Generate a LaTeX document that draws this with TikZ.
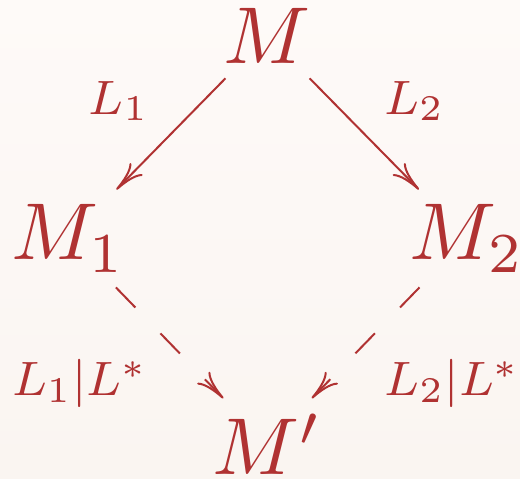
\documentclass[tikz,border=0pt]{standalone}
\usetikzlibrary{arrows.meta,positioning}
\definecolor{diagRed}{HTML}{B03232}
\definecolor{paperTop}{HTML}{FEFAF8}
\definecolor{paperBot}{HTML}{FAF5F1}
\newcommand\objtxt[1]{\scalebox{2.42}{$#1$}}
\newcommand\labtxt[1]{\scalebox{1.81}{\fontsize{8}{9.5}\selectfont$#1$}}

\begin{document}
\begin{tikzpicture}[>={To[length=8.7pt,width=5.3pt]},on grid,
  obj/.style={text=diagRed,inner sep=4.4pt},
  lab/.style={text=diagRed,inner sep=0pt},
  conn/.style={->,diagRed,line width=0.6pt}]
  \path[use as bounding box,top color=paperTop,bottom color=paperBot]
    (-80.25pt,-132.77pt) rectangle (75.75pt,10.64pt);
  \node[obj] (m) at (0,0) {\objtxt{M}};
  \node[obj,below left=60.9pt and 59.7pt of m] (m1) {\objtxt{M_1}};
  \node[obj,below right=60.9pt and 59.85pt of m] (m2) {\objtxt{M_2}};
  \node[obj,below=122.55pt of m] (mp) {\objtxt{M'}};
  \node[lab,below left=19.7pt and 44.55pt of m] (l1) {\labtxt{L_1}};
  \node[lab,below right=19.7pt and 44.1pt of m] (l2) {\labtxt{L_2}};
  \node[lab,below right=43.5pt and 3.45pt of m1] (l1s) {\labtxt{L_1|L^*}};
  \node[lab,below left=43.6pt and 4.35pt of m2] (l2s) {\labtxt{L_2|L^*}};
  \draw[conn] (m) -- (m1);
  \draw[conn] (m) -- (m2);
  \draw[conn,dash pattern=on 8.4pt off 10.8pt] (m1) -- (mp);
  \draw[conn,dash pattern=on 8.4pt off 10.8pt] (m2) -- (mp);
\end{tikzpicture}
\end{document}
